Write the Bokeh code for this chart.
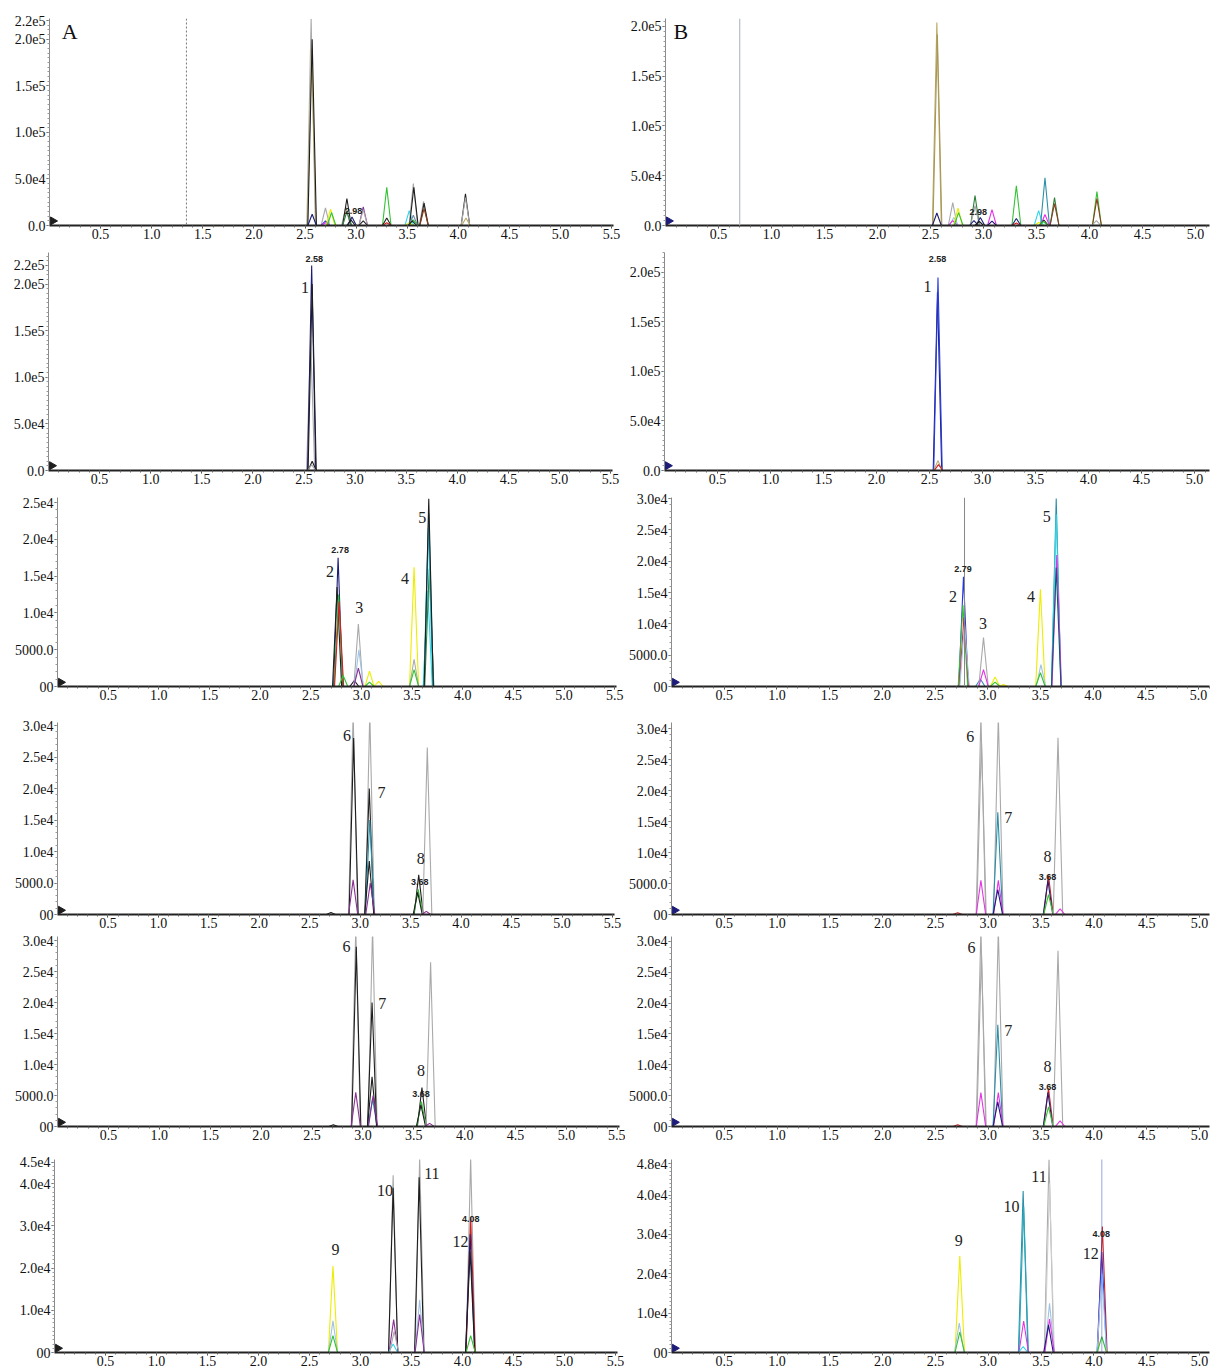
import math
from bokeh.plotting import figure
from bokeh.layouts import column, row
from bokeh.models import FixedTicker, Range1d, Span, Label, ColumnDataSource, NumeralTickFormatter
from bokeh.embed import file_html
from bokeh.resources import INLINE

# ---------------- colours of the traces ----------------
GRAY = "#a9a9a9"; BLACK = "#1e1e1e"; NAVY = "#1c1c78"; OLIVE = "#b9a862"
GREEN = "#33c233"; DKGREEN = "#2f7f3a"; YELLOW = "#eded00"; PURPLE = "#8b2f96"
MAGENTA = "#e632e6"; CYAN = "#2fd6e6"; TEAL = "#2a8fa8"; RED = "#d02020"
BROWN = "#8c3b1c"; BLUE = "#2438e0"; LTBLUE = "#9fc3e6"; STEEL = "#6f8aa8"
LTGRAY = "#cfcfcf"

# ---------------- data: peaks (retention time, height, colour) ----------------
# Row 1, left (A)
A1_rt = [2.56, 2.565, 2.57, 2.57, 2.70, 2.70, 2.70, 2.75, 2.76, 2.90, 2.91, 2.91, 2.96, 2.95,
         3.07, 3.07, 3.07, 3.30, 3.30, 3.30, 3.52, 3.52, 3.56, 3.565, 3.56, 3.56, 3.55,
         3.66, 3.665, 3.665, 4.07, 4.07, 4.075]
A1_h = [222000, 190000, 200000, 12000, 19000, 5000, 3000, 17500, 14000, 20000, 29000, 15000, 9000, 6000,
        20000, 17000, 5000, 41000, 8000, 3000, 16000, 3000, 45000, 41000, 11000, 6000, 5000,
        26000, 24000, 18000, 34000, 30000, 8000]
A1_col = [GRAY, OLIVE, BLACK, NAVY, GRAY, BLUE, MAGENTA, YELLOW, GREEN, GRAY, BLACK, DKGREEN, NAVY, BLACK,
          PURPLE, GRAY, BLACK, GREEN, BLACK, RED, CYAN, YELLOW, GRAY, BLACK, STEEL, GREEN, BLACK,
          GRAY, BLACK, BROWN, BLACK, GRAY, OLIVE]

# Row 1, right (B)
B1_rt = [2.56, 2.565, 2.56, 2.71, 2.72, 2.71, 2.76, 2.765, 2.92, 2.92, 2.91, 2.97, 2.96,
         3.08, 3.08, 3.31, 3.31, 3.31, 3.52, 3.52, 3.58, 3.58, 3.57, 3.565,
         3.67, 3.67, 4.07, 4.07, 4.065]
B1_h = [204000, 192000, 12500, 23000, 8000, 5000, 17500, 13000, 30000, 20000, 5000, 8000, 4000,
        16000, 4500, 40000, 7000, 2500, 15000, 3000, 48000, 11000, 5500, 4000,
        28000, 22000, 34000, 27000, 5000]
B1_col = [OLIVE, "#a89858", NAVY, GRAY, LTBLUE, MAGENTA, YELLOW, GREEN, DKGREEN, GRAY, NAVY, NAVY, BLACK,
          MAGENTA, NAVY, GREEN, NAVY, RED, CYAN, YELLOW, TEAL, MAGENTA, BLACK, GREEN,
          DKGREEN, BROWN, GREEN, BROWN, GRAY]

# Row 2
A2_rt = [2.565, 2.575, 2.58, 2.58, 2.575]
A2_h = [140000, 220000, 200000, 10000, 6000]
A2_col = [GRAY, NAVY, BLACK, BLACK, GRAY]

B2_rt = [2.575, 2.58, 2.58, 2.585]
B2_h = [180000, 195000, 10000, 6000]
B2_col = [NAVY, BLUE, OLIVE, RED]

# Row 3
A3_rt = [2.77, 2.76, 2.775, 2.78, 2.82, 2.93, 2.97, 2.975, 2.97, 3.08, 3.08, 3.17,
         3.52, 3.52, 3.52, 3.655, 3.67, 3.66, 3.665, 3.665]
A3_h = [17500, 13500, 12500, 11500, 1500, 800, 8500, 5000, 2500, 2100, 600, 700,
        16200, 3700, 2300, 13000, 16000, 21500, 23500, 25500]
A3_col = [NAVY, BLACK, GREEN, RED, GREEN, BLACK, GRAY, LTBLUE, PURPLE, YELLOW, GREEN, YELLOW,
          YELLOW, GRAY, GREEN, CYAN, DKGREEN, CYAN, TEAL, BLACK]

B3_rt = [2.77, 2.765, 2.775, 2.78, 2.93, 2.96, 2.96, 3.07, 3.07, 3.15,
         3.50, 3.505, 3.50, 3.65, 3.65, 3.655, 3.65]
B3_h = [17500, 13000, 11000, 10000, 1200, 7800, 2700, 1500, 700, 300,
        15500, 3500, 2200, 30000, 27500, 21000, 19000]
B3_col = [BLUE, GREEN, RED, LTBLUE, TEAL, GRAY, MAGENTA, YELLOW, GREEN, YELLOW,
          YELLOW, LTBLUE, GREEN, TEAL, CYAN, MAGENTA, "#105870"]

# Rows 4 and 5
A4_rt = [2.71, 2.93, 2.935, 2.93, 3.095, 3.09, 3.095, 3.09, 3.10, 3.58, 3.575, 3.57, 3.665, 3.655]
A4_h = [300, 32000, 28000, 5500, 32000, 20000, 15000, 8500, 5000, 6300, 4000, 3500, 26500, 500]
A4_col = [BLACK, GRAY, BLACK, PURPLE, GRAY, BLACK, TEAL, BLACK, PURPLE, BLACK, GREEN, BLACK, GRAY, PURPLE]

B4_rt = [2.71, 2.93, 2.935, 2.93, 3.095, 3.09, 3.095, 3.09, 3.57, 3.565, 3.57, 3.66, 3.68]
B4_h = [300, 32000, 28000, 5500, 32000, 16500, 5500, 4000, 6300, 5500, 3200, 28500, 900]
B4_col = [RED, GRAY, GRAY, MAGENTA, GRAY, TEAL, MAGENTA, NAVY, RED, NAVY, GREEN, GRAY, MAGENTA]

A5_rt = [2.71, 2.93, 2.935, 2.93, 3.095, 3.09, 3.095, 3.09, 3.10, 3.58, 3.575, 3.57, 3.665, 3.655]
A5_h = [300, 32000, 29000, 5500, 32000, 20000, 4500, 8000, 5000, 6300, 4000, 3500, 26500, 500]
A5_col = [BLACK, GRAY, BLACK, PURPLE, GRAY, BLACK, TEAL, BLACK, PURPLE, BLACK, GREEN, BLACK, GRAY, PURPLE]

B5_rt = [2.71, 2.93, 2.935, 2.93, 3.095, 3.09, 3.095, 3.09, 3.57, 3.565, 3.57, 3.66, 3.68]
B5_h = [300, 32000, 28000, 5500, 32000, 16500, 5500, 4000, 6200, 5500, 3200, 28500, 900]
B5_col = [RED, GRAY, GRAY, MAGENTA, GRAY, TEAL, MAGENTA, NAVY, RED, NAVY, GREEN, GRAY, MAGENTA]

# Row 6
A6_rt = [2.73, 2.73, 2.73, 3.32, 3.32, 3.325, 3.32, 3.33, 3.58, 3.575, 3.58, 3.58,
         4.08, 4.08, 4.075, 4.075, 4.08]
A6_h = [20500, 7500, 4000, 42000, 39000, 7800, 2000, 5000, 46000, 41500, 12500, 9000,
        46000, 32000, 28000, 24000, 4000]
A6_col = [YELLOW, LTBLUE, GREEN, GRAY, BLACK, PURPLE, CYAN, GRAY, GRAY, BLACK, LTBLUE, PURPLE,
          GRAY, RED, NAVY, BLACK, GREEN]

B6_rt = [2.73, 2.725, 2.73, 3.33, 3.335, 3.335, 3.33, 3.575, 3.58, 3.58, 3.58, 3.57,
         4.08, 4.075, 4.075, 4.075]
B6_h = [24500, 7500, 5200, 41000, 37000, 8000, 1500, 49000, 43000, 12500, 8500, 7000,
        32000, 25500, 20000, 4000]
B6_col = [YELLOW, LTBLUE, GREEN, TEAL, "#2aa8b8", MAGENTA, CYAN, GRAY, LTGRAY, LTBLUE, MAGENTA, NAVY,
          RED, BLUE, LTBLUE, GREEN]

# ---------------- data: annotations (x, y, text) ----------------
A1_num = []; A1_rtlab = [(2.975, 16000, "2.98")]
B1_num = []; B1_rtlab = [(2.95, 14000, "2.98")]
A2_num = [(2.51, 196000, "1")]; A2_rtlab = [(2.60, 227000, "2.58")]
B2_num = [(2.48, 186000, "1")]; B2_rtlab = [(2.575, 214000, "2.58")]
A3_num = [(2.69, 15600, "2"), (2.98, 10700, "3"), (3.43, 14700, "4"), (3.60, 23000, "5")]
A3_rtlab = [(2.79, 18600, "2.78")]
B3_num = [(2.67, 14300, "2"), (2.955, 10100, "3"), (3.41, 14300, "4"), (3.56, 27100, "5")]
B3_rtlab = [(2.765, 18800, "2.79")]
A4_num = [(2.87, 28400, "6"), (3.21, 19400, "7"), (3.60, 8900, "8")]
A4_rtlab = [(3.59, 5200, "3.68")]
B4_num = [(2.83, 28700, "6"), (3.19, 15600, "7"), (3.56, 9350, "8")]
B4_rtlab = [(3.56, 6100, "3.68")]
A5_num = [(2.84, 29000, "6"), (3.19, 19800, "7"), (3.57, 9000, "8")]
A5_rtlab = [(3.57, 5300, "3.68")]
B5_num = [(2.84, 29000, "6"), (3.19, 15600, "7"), (3.56, 9700, "8")]
B5_rtlab = [(3.56, 6450, "3.68")]
A6_num = [(2.755, 24300, "9"), (3.24, 38400, "10"), (3.70, 42400, "11"), (3.98, 26200, "12")]
A6_rtlab = [(4.08, 31600, "4.08")]
B6_num = [(2.72, 28400, "9"), (3.22, 37100, "10"), (3.48, 44700, "11"), (3.97, 25100, "12")]
B6_rtlab = [(4.07, 30200, "4.08")]

# ---------------- data: axis ticks ----------------
X_TICKS_A = [0.5, 1.0, 1.5, 2.0, 2.5, 3.0, 3.5, 4.0, 4.5, 5.0, 5.5]
X_TICKS_B = [0.5, 1.0, 1.5, 2.0, 2.5, 3.0, 3.5, 4.0, 4.5, 5.0]
Y_TICKS_R12A = [0, 50000, 100000, 150000, 200000, 220000]
Y_LABS_R12A = ["0.0", "5.0e4", "1.0e5", "1.5e5", "2.0e5", "2.2e5"]
Y_TICKS_R12B = [0, 50000, 100000, 150000, 200000]
Y_LABS_R12B = ["0.0", "5.0e4", "1.0e5", "1.5e5", "2.0e5"]
Y_TICKS_25 = [0, 5000, 10000, 15000, 20000, 25000]
Y_LABS_25 = ["00", "5000.0", "1.0e4", "1.5e4", "2.0e4", "2.5e4"]
Y_TICKS_30 = [0, 5000, 10000, 15000, 20000, 25000, 30000]
Y_LABS_30 = ["00", "5000.0", "1.0e4", "1.5e4", "2.0e4", "2.5e4", "3.0e4"]
Y_TICKS_45 = [0, 10000, 20000, 30000, 40000, 45000]
Y_LABS_45 = ["00", "1.0e4", "2.0e4", "3.0e4", "4.0e4", "4.5e4"]
Y_TICKS_48 = [0, 10000, 20000, 30000, 40000, 48000]
Y_LABS_48 = ["00", "1.0e4", "2.0e4", "3.0e4", "4.0e4", "4.8e4"]

# ---------------- layout / styling ----------------
SERIF = "Liberation Serif"
LEFT_W, RIGHT_W = 625, 585
ROW_H = [248, 244, 218, 222, 213, 225]
# per row: (top border, frame height) shared by both panels of the row
ROW_FRAME = [(18, 207), (4, 218), (5, 189), (12, 192), (4, 190), (14, 193)]


def make_panel(W, ri, bl, scale, y_end, left_col, rt, hts, cols, hw,
               yticks, ylabs, xticks, nums, rtlabs, yminor, spans=(), letter=None,
               marker_color=NAVY):
    H = ROW_H[ri]
    bt, fh = ROW_FRAME[ri]
    if left_col:
        fw = int(round(5.52 * scale))
    else:
        fw = W - bl - 1
    br = W - bl - fw
    x_end = fw / scale
    bb = H - bt - fh
    p = figure(width=W, height=H, output_backend="svg", toolbar_location=None,
               x_range=Range1d(0, x_end), y_range=Range1d(0, y_end),
               min_border_left=bl, min_border_right=br, min_border_top=bt,
               min_border_bottom=bb, outline_line_color=None,
               background_fill_color="white", border_fill_color="white")
    p.grid.visible = False

    xs = [[r - hw, r, r + hw] for r in rt]
    ys = [[0, h, 0] for h in hts]
    src = ColumnDataSource(dict(xs=xs, ys=ys, c=cols))
    p.multi_line("xs", "ys", line_color="c", line_width=1.1, source=src)

    for s in spans:
        p.add_layout(s)

    # small marker at the origin
    p.scatter([0.006 * x_end], [y_end * 0.022], marker="triangle", angle=-math.pi / 2,
              size=8, color=marker_color)

    for (x, y, t) in nums:
        p.add_layout(Label(x=x, y=y, text=t, text_font=SERIF, text_font_size="16px",
                           text_color="#222222", text_align="center", text_baseline="middle"))
    for (x, y, t) in rtlabs:
        p.add_layout(Label(x=x, y=y, text=t, text_font="Liberation Sans", text_font_size="9px",
                           text_font_style="bold", text_color="#222222",
                           text_align="center", text_baseline="middle"))
    if letter is not None:
        lx, lt = letter
        p.add_layout(Label(x=lx, y=y_end, text=lt, text_font=SERIF, text_font_size="22px",
                           text_color="#111111", text_align="left", text_baseline="top"))

    xa = p.xaxis[0]
    xa.ticker = FixedTicker(ticks=xticks,
                            minor_ticks=[i / 10 for i in range(1, int(x_end * 10) + 1)])
    xa.formatter = NumeralTickFormatter(format="0.0")
    xa.axis_line_color = "#222222"
    xa.axis_line_width = 2
    xa.major_tick_out = 3
    xa.major_tick_in = 0
    xa.minor_tick_out = 2
    xa.minor_tick_in = 0
    xa.major_tick_line_color = "#444444"
    xa.minor_tick_line_color = "#666666"
    xa.major_label_standoff = 0
    xa.major_label_text_font = SERIF
    xa.major_label_text_font_size = "14px"
    xa.major_label_text_color = "#111111"

    ya = p.yaxis[0]
    ya.ticker = FixedTicker(ticks=yticks, minor_ticks=yminor)
    ya.major_label_overrides = {t: l for t, l in zip(yticks, ylabs)}
    ya.axis_line_color = "#8a8a8a"
    ya.axis_line_width = 1
    ya.major_tick_out = 3
    ya.major_tick_in = 0
    ya.minor_tick_out = 2
    ya.minor_tick_in = 0
    ya.major_tick_line_color = "#555555"
    ya.minor_tick_line_color = "#9a9a9a"
    ya.major_label_standoff = 1
    ya.major_label_text_font = SERIF
    ya.major_label_text_font_size = "14px"
    ya.major_label_text_color = "#111111"
    return p


minor_big = [i * 5000 for i in range(0, 47)]
minor_30 = [i * 1000 for i in range(0, 31)]
minor_45 = [i * 1000 for i in range(0, 49)]

pA1 = make_panel(LEFT_W, 0, 49, 102.2, 222150, True, A1_rt, A1_h, A1_col, 0.042,
                 Y_TICKS_R12A, Y_LABS_R12A, X_TICKS_A, A1_num, A1_rtlab, minor_big[:45],
                 spans=[Span(location=1.34, dimension="height", line_color="#777777",
                             line_dash="2 2", line_width=1)],
                 letter=(0.12, "A"), marker_color=BLACK)
pB1 = make_panel(RIGHT_W, 0, 40, 106.0, 208000, False, B1_rt, B1_h, B1_col, 0.042,
                 Y_TICKS_R12B, Y_LABS_R12B, X_TICKS_B, B1_num, B1_rtlab, minor_big[:42],
                 spans=[Span(location=0.70, dimension="height", line_color="#b4bccb",
                             line_width=1.2)],
                 letter=(0.075, "B"))

pA2 = make_panel(LEFT_W, 1, 48, 102.2, 233950, True, A2_rt, A2_h, A2_col, 0.04,
                 Y_TICKS_R12A, Y_LABS_R12A, X_TICKS_A, A2_num, A2_rtlab, minor_big,
                 marker_color=BLACK)
pB2 = make_panel(RIGHT_W, 1, 39, 106.0, 220200, False, B2_rt, B2_h, B2_col, 0.04,
                 Y_TICKS_R12B, Y_LABS_R12B, X_TICKS_B, B2_num, B2_rtlab, minor_big[:45])

pA3 = make_panel(LEFT_W, 2, 57, 101.3, 25680, True, A3_rt, A3_h, A3_col, 0.045,
                 Y_TICKS_25, Y_LABS_25, X_TICKS_A, A3_num, A3_rtlab, minor_30[:26],
                 marker_color=BLACK)
pB3 = make_panel(RIGHT_W, 2, 45, 105.6, 30160, False, B3_rt, B3_h, B3_col, 0.045,
                 Y_TICKS_30, Y_LABS_30, X_TICKS_B, B3_num, B3_rtlab, minor_30,
                 spans=[Span(location=2.78, dimension="height", line_color="#888888",
                             line_width=1)])

pA4 = make_panel(LEFT_W, 3, 57, 100.9, 30480, True, A4_rt, A4_h, A4_col, 0.045,
                 Y_TICKS_30, Y_LABS_30, X_TICKS_A, A4_num, A4_rtlab, minor_30,
                 marker_color=BLACK)
pB4 = make_panel(RIGHT_W, 3, 46, 105.6, 30970, False, B4_rt, B4_h, B4_col, 0.045,
                 Y_TICKS_30, Y_LABS_30, X_TICKS_B, B4_num, B4_rtlab, minor_30)

pA5 = make_panel(LEFT_W, 4, 57, 101.8, 30650, True, A5_rt, A5_h, A5_col, 0.045,
                 Y_TICKS_30, Y_LABS_30, X_TICKS_A, A5_num, A5_rtlab, minor_30,
                 marker_color=BLACK)
pB5 = make_panel(RIGHT_W, 4, 46, 105.6, 30810, False, B5_rt, B5_h, B5_col, 0.045,
                 Y_TICKS_30, Y_LABS_30, X_TICKS_B, B5_num, B5_rtlab, minor_30)

pA6 = make_panel(LEFT_W, 5, 54, 102.0, 45710, True, A6_rt, A6_h, A6_col, 0.045,
                 Y_TICKS_45, Y_LABS_45, X_TICKS_A, A6_num, A6_rtlab, minor_45[:46],
                 marker_color=BLACK)
pB6 = make_panel(RIGHT_W, 5, 46, 105.6, 49020, False, B6_rt, B6_h, B6_col, 0.045,
                 Y_TICKS_48, Y_LABS_48, X_TICKS_B, B6_num, B6_rtlab, minor_45,
                 spans=[Span(location=4.075, dimension="height", line_color="#3050c0",
                             line_dash="1 1", line_width=1)])

layout = column(
    row(pA1, pB1, spacing=0),
    row(pA2, pB2, spacing=0),
    row(pA3, pB3, spacing=0),
    row(pA4, pB4, spacing=0),
    row(pA5, pB5, spacing=0),
    row(pA6, pB6, spacing=0),
    spacing=0,
)

open("out.html", "w").write(file_html(layout, INLINE))
